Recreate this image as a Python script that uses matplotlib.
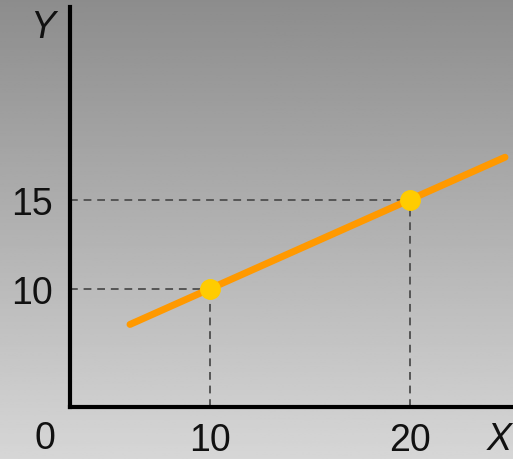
"""
schematic linear function: two points on a line with dashed guides to the axes
"""
import numpy as np
import matplotlib.pyplot as plt

plt.rcParams["font.family"] = ["Liberation Sans", "DejaVu Sans"]

# data
line_x = [6, 24.75]
slope, intercept = 0.5, 5
point_x = [10, 20]
point_y = [10, 15]
x_ticks = [10, 20]
y_ticks = [10, 15]

line_y = [slope * v + intercept for v in line_x]

fig = plt.figure(figsize=(5.13, 4.6), dpi=100)

# gray gradient background
bg = fig.add_axes([0, 0, 1, 1], zorder=0)
grad = np.linspace(0, 1, 256).reshape(-1, 1)
bg.imshow(grad, aspect="auto", cmap="gray", vmin=-1.9, vmax=1.55,
          extent=[0, 1, 0, 1], origin="upper")
bg.axis("off")

W, H = 513, 460
ax = fig.add_axes([70 / W, (H - 408) / H, (W - 70) / W, 400 / H], zorder=1)
ax.patch.set_visible(False)
ax.set_xlim(3, 25.15)
ax.set_ylim(3.37, 25.8)

ax.plot(line_x, line_y, color="#ff9900", lw=5, solid_capstyle="round", zorder=3)

dash = dict(color="#555555", lw=1.4, ls=(0, (4, 3)), zorder=2)
for px, py in zip(point_x, point_y):
    ax.plot([3, px], [py, py], **dash)
    ax.plot([px, px], [3.37, py], **dash)

ax.plot(point_x, point_y, "o", color="#ffcc00", ms=14, zorder=4)

for s in ("top", "right"):
    ax.spines[s].set_visible(False)
for s in ("left", "bottom"):
    ax.spines[s].set_linewidth(3)
    ax.spines[s].set_color("black")

ax.set_xticks(x_ticks)
ax.set_yticks(y_ticks)
ax.tick_params(length=0, labelsize=27, colors="#111111")
ax.tick_params(axis="x", pad=11)
ax.tick_params(axis="y", pad=12)

fig.text(45 / W, 1 - 439 / H, "0", fontsize=27, ha="center", va="center", color="#111111")
fig.text(43 / W, 1 - 28 / H, "Y", fontsize=27, ha="center", va="center",
         style="italic", color="#111111")
fig.text(499 / W, 1 - 440 / H, "X", fontsize=27, ha="center", va="center",
         style="italic", color="#111111")

fig.savefig("out.png", dpi=100)
plt.close()
